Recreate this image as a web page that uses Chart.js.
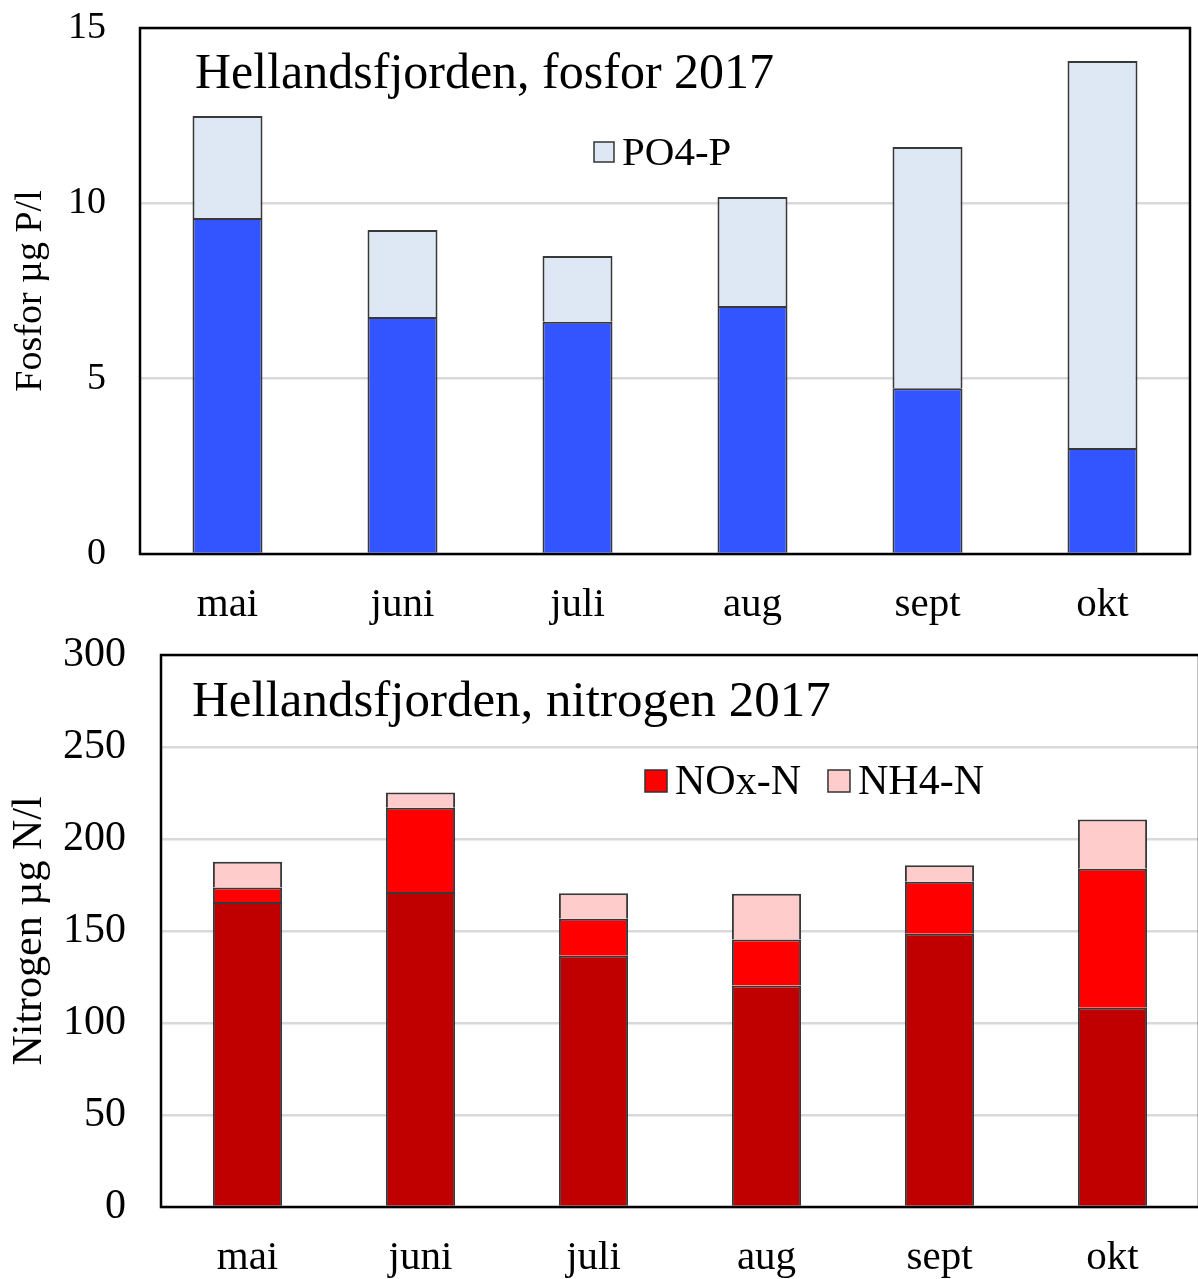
<!DOCTYPE html>
<html lang="no">
<head>
<meta charset="UTF-8">
<title>Hellandsfjorden 2017</title>
<script src="https://cdn.jsdelivr.net/npm/chart.js"></script>
<style>
  html, body { margin: 0; padding: 0; background: #fff; overflow: hidden; }
  .panel { position: absolute; left: 0; width: 1198px; overflow: hidden; }
  #fosfor { top: 0; height: 640px; }
  #nitrogen { top: 620px; height: 659px; }
</style>
</head>
<body>
<div class="panel" id="fosfor"><canvas id="fosforChart" width="1198" height="640"></canvas></div>
<div class="panel" id="nitrogen"><canvas id="nitrogenChart" width="1206" height="659"></canvas></div>

<script>
// data lest av figuren
const maaneder = ['mai', 'juni', 'juli', 'aug', 'sept', 'okt'];

const fosforRest = [9.58, 6.76, 6.62, 7.07, 4.73, 3.02];
const po4P = [2.91, 2.48, 1.88, 3.11, 6.88, 11.04];
const fosforTicks = [0, 5, 10, 15];

const nitrogenRest = [165.8, 171.2, 136.6, 120.4, 148.5, 108.3];
const noxN = [7.9, 45.8, 20.0, 25.0, 28.3, 75.5];
const nh4N = [14.0, 8.3, 13.9, 24.9, 8.9, 26.8];
const nitrogenTicks = [0, 50, 100, 150, 200, 250, 300];

const serif = '"Liberation Serif", "DejaVu Serif", serif';
Chart.defaults.font.family = serif;
Chart.defaults.color = '#000';
Chart.defaults.devicePixelRatio = 1;

// ramme, tittel og legende inne i plottet
const rammeOgTekst = {
    id: 'rammeOgTekst',
    afterDatasetsDraw(chart, args, opts) {
        const a = chart.chartArea;
        const ctx = chart.ctx;
        ctx.save();
        ctx.strokeStyle = '#000';
        ctx.lineWidth = 2.5;
        ctx.strokeRect(a.left, a.top, a.right - a.left, a.bottom - a.top);

        ctx.fillStyle = '#000';
        ctx.textBaseline = 'middle';
        ctx.font = opts.titleSize + 'px ' + serif;
        ctx.fillText(opts.title, a.left + opts.titleX, a.top + opts.titleY);

        ctx.font = opts.legendSize + 'px ' + serif;
        let x = a.left + opts.legendX;
        const y = a.top + opts.legendY;
        const box = opts.box;
        chart.data.datasets.forEach(ds => {
            if (!ds.label) return;
            ctx.fillStyle = ds.backgroundColor;
            ctx.fillRect(x, y - box / 2, box, box);
            ctx.strokeStyle = '#333';
            ctx.lineWidth = 1.5;
            ctx.strokeRect(x, y - box / 2, box, box);
            ctx.fillStyle = '#000';
            ctx.fillText(ds.label, x + box + 8, y + 2);
            x += box + 8 + ctx.measureText(ds.label).width + 27;
        });
        ctx.restore();
    }
};

function lagDiagram(id, cfg) {
    const ctx = document.getElementById(id).getContext('2d');
    return new Chart(ctx, {
        type: 'bar',
        data: { labels: maaneder, datasets: cfg.datasets },
        options: {
            responsive: false,
            animation: false,
            layout: { padding: cfg.padding },
            datasets: {
                bar: {
                    barPercentage: 0.4,
                    categoryPercentage: 1.0,
                    borderColor: '#383838',
                    borderWidth: 2,
                    borderSkipped: 'start'
                }
            },
            scales: {
                x: {
                    stacked: true,
                    grid: { display: false, drawTicks: false },
                    border: { display: false },
                    ticks: { font: { size: cfg.xSize }, padding: cfg.xPad },
                    afterFit(scale) {
                        scale.height = cfg.xHeight;
                        scale.paddingLeft = 0;
                        scale.paddingRight = 0;
                    }
                },
                y: {
                    stacked: true,
                    min: 0,
                    max: cfg.max,
                    afterBuildTicks(scale) {
                        scale.ticks = cfg.ticks.map(v => ({ value: v }));
                    },
                    grid: { color: '#d9d9d9', lineWidth: 2.5, drawTicks: false },
                    border: { display: false },
                    ticks: { font: { size: cfg.ySize }, padding: cfg.yPad },
                    title: {
                        display: true,
                        text: cfg.yTitle,
                        font: { size: cfg.yTitleSize },
                        padding: { top: cfg.yTitleTop, bottom: 0 }
                    },
                    afterFit(scale) {
                        scale.width = cfg.yWidth;
                        scale.paddingTop = 0;
                        scale.paddingBottom = 0;
                    }
                }
            },
            plugins: {
                legend: { display: false },
                tooltip: { enabled: false },
                rammeOgTekst: cfg.tekst
            }
        },
        plugins: [rammeOgTekst]
    });
}

lagDiagram('fosforChart', {
    datasets: [
        { label: '', data: fosforRest, backgroundColor: '#3355ff' },
        { label: 'PO4-P', data: po4P, backgroundColor: '#dee8f4' }
    ],
    padding: { left: 0, top: 28, right: 8, bottom: 0 },
    max: 15,
    ticks: fosforTicks,
    xSize: 41, xPad: 27, xHeight: 86,
    ySize: 38, yPad: 34, yWidth: 140,
    yTitle: 'Fosfor µg P/l', yTitleSize: 38, yTitleTop: 8,
    tekst: {
        title: 'Hellandsfjorden, fosfor 2017', titleSize: 50, titleX: 55, titleY: 47,
        legendSize: 41, legendX: 454, legendY: 124, box: 20
    }
});

lagDiagram('nitrogenChart', {
    datasets: [
        { label: '', data: nitrogenRest, backgroundColor: '#c00000' },
        { label: 'NOx-N', data: noxN, backgroundColor: '#ff0000' },
        { label: 'NH4-N', data: nh4N, backgroundColor: '#ffcccc' }
    ],
    padding: { left: 0, top: 35, right: 7, bottom: 0 },
    max: 300,
    ticks: nitrogenTicks,
    xSize: 41, xPad: 27, xHeight: 72,
    ySize: 42, yPad: 35, yWidth: 161,
    yTitle: 'Nitrogen µg N/l', yTitleSize: 42, yTitleTop: 5,
    tekst: {
        title: 'Hellandsfjorden, nitrogen 2017', titleSize: 51, titleX: 31, titleY: 48,
        legendSize: 42, legendX: 484, legendY: 126, box: 22
    }
});
</script>
</body>
</html>
